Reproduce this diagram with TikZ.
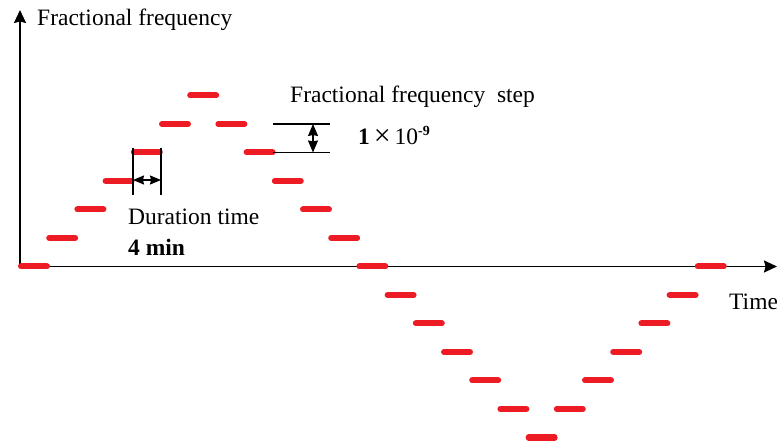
\documentclass[tikz,border=0pt]{standalone}
\usepackage{fontspec}
\setmainfont{Liberation Serif}
\usetikzlibrary{arrows.meta}
\definecolor{dashred}{RGB}{237,28,36}
\tikzset{
  lvl/.style={dashred, line width=6pt, line cap=round},
  axis/.style={line width=1.7pt, -{Stealth[length=13pt,width=12pt,inset=1.5pt]}},
  meas/.style={line width=1.2pt},
  dimarrow/.style={line width=1.4pt, {Stealth[length=12pt,width=10pt,inset=1pt]}-{Stealth[length=12pt,width=10pt,inset=1pt]}},
  durarrow/.style={line width=1.4pt, {Stealth[length=11pt,width=9pt,inset=1pt]}-{Stealth[length=11pt,width=9pt,inset=1pt]}},
  lbl/.style={font=\fontsize{23.5}{28}\selectfont, inner sep=0pt, anchor=base west},
}
\begin{document}
\begin{tikzpicture}[x=1pt,y=-1pt]
\useasboundingbox (0,0) rectangle (777,446);
% axes
\coordinate (O) at (20,266.5);
\coordinate (ytip) at (20,10);
\coordinate (xtip) at (777,266.5);
\draw[axis] (O) -- (ytip);
\draw[axis] (O) -- (xtip);
% staircase dashes
\foreach \i in {0,...,24} {
  \pgfmathsetmacro{\lv}{\i<=6 ? \i : (\i<=18 ? 12-\i : \i-24)}
  \draw[lvl] ({18+28.2*\i+3},{266.5-28.5*\lv}) -- ++(26,0);
}
% duration marker
\coordinate (d1t) at (133,148);
\coordinate (d1b) at (133,195);
\coordinate (d2t) at (161,148);
\coordinate (d2b) at (161,195);
\coordinate (da) at (133,180);
\coordinate (db) at (161,180);
\draw[meas] (d1t) -- (d1b);
\draw[meas] (d2t) -- (d2b);
\draw[durarrow] (da) -- (db);
% step marker
\coordinate (s1l) at (273,124);
\coordinate (s1r) at (330,124);
\coordinate (s2l) at (273,152.5);
\coordinate (s2r) at (330,152.5);
\coordinate (sa) at (313,124);
\coordinate (sb) at (313,152.5);
\draw[meas] (s1l) -- (s1r);
\draw[meas] (s2l) -- (s2r);
\draw[dimarrow] (sa) -- (sb);
% labels
\node[lbl] (ylabel) at (37,26) {Fractional frequency};
\node[lbl] (xlabel) at (729,310) {Time};
\node[lbl] (steplabel) at (290,103) {Fractional frequency\ \ step};
\node[lbl] (stepval) at (358,145) {\textbf{1}\,{\fontsize{30}{30}\selectfont\raisebox{-1pt}{×}}\,10\raisebox{9pt}{\fontsize{14}{14}\selectfont\bfseries -9}};
\node[lbl] (durlabel) at (128,225) {Duration time};
\node[lbl, font=\fontsize{23.5}{28}\selectfont\bfseries] (durval) at (128,256) {4 min};
\end{tikzpicture}
\end{document}
